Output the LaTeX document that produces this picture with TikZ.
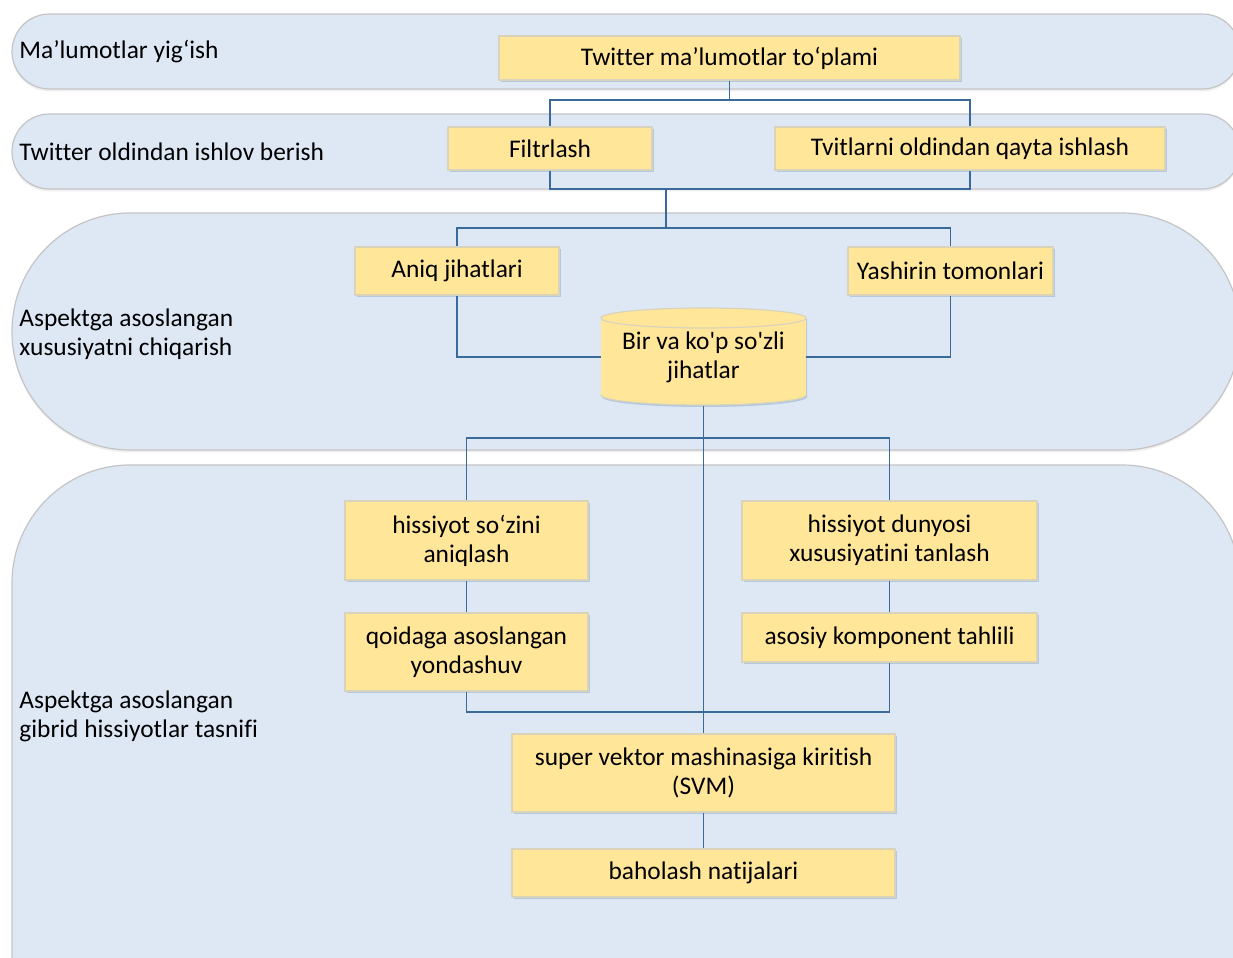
\documentclass[tikz,border=0pt]{standalone}
\usepackage{fontspec}
\setmainfont{Carlito}[Ligatures={TeXOff,NoCommon}]
\usetikzlibrary{shadows}

\definecolor{lanefill}{HTML}{DEE8F5}
\definecolor{laneline}{HTML}{C4C4C4}
\definecolor{boxfill}{HTML}{FFE699}
\definecolor{boxline}{HTML}{D9D3BC}
\definecolor{linkcol}{HTML}{3A6A9A}

\begin{document}
\begin{tikzpicture}[x=.5pt,y=-.5pt,
	lane/.style={fill=lanefill,draw=laneline,line width=.6pt,
		drop shadow={opacity=.12,shadow xshift=0pt,shadow yshift=-1.2pt}},
	lanelabel/.style={anchor=west,align=left,inner sep=0pt,
		font=\fontsize{12.7}{14.6}\selectfont},
	box/.style={fill=boxfill,draw=boxline,line width=.6pt,inner sep=0pt,align=center,
		font=\fontsize{12.7}{14.6}\selectfont,
		drop shadow={fill=linkcol,opacity=.25,shadow xshift=1pt,shadow yshift=-1.2pt}},
	plainbox/.style={inner sep=0pt,align=center,font=\fontsize{12.7}{14.6}\selectfont},
	link/.style={draw=linkcol,line width=.7pt}]
	\useasboundingbox (0,0) rectangle (1233,958);
	\fill[white] (0,0) rectangle (1233,958);

	% lanes
	\begin{scope}
	\clip (0,0) rectangle (1233,958);
	\draw[lane,rounded corners=18.75pt] (12,14) rectangle (1240,89);
	\draw[lane,rounded corners=18.75pt] (12,114) rectangle (1240,189);
	\draw[lane,rounded corners=59pt] (12,213) rectangle (1240,450);
	\draw[lane,rounded corners=59pt] (12,465) rectangle (1240,1120);
	\end{scope}

	\node[lanelabel] (l1) at (19,52) {Ma’lumotlar yig‘ish};
	\node[lanelabel] (l2) at (19,152) {Twitter oldindan ishlov berish};
	\node[lanelabel] (l3) at (19,334) {Aspektga asoslangan\\xususiyatni chiqarish};
	\node[lanelabel] (l4) at (19,716) {Aspektga asoslangan\\gibrid hissiyotlar tasnifi};

	% boxes
	\node[box,minimum width=230.5pt,minimum height=22pt] (tw) at (729.5,58) {Twitter ma’lumotlar to‘plami};
	\node[box,minimum width=102pt,minimum height=21.5pt] (filt) at (550,148.5) {Filtrlash};
	\node[box,minimum width=195pt,minimum height=21.5pt] (tvit) at (970,148.5) {Tvitlarni oldindan qayta ishlash};
	\node[box,minimum width=102pt,minimum height=24pt] (aniq) at (457,271) {Aniq jihatlari};
	\node[box,minimum width=102.5pt,minimum height=24pt] (yash) at (950.5,271) {Yashirin tomonlari};

	% cylinder
	\fill[linkcol,opacity=.25] (602,319) -- (602,397) arc (180:360:51.25pt and 5pt) -- (807,319) -- cycle;
	\fill[boxfill] (601,318) -- (601,395) arc (180:360:51.25pt and 5pt) -- (806,318) -- cycle;
	\draw[boxline,line width=.6pt] (601,395) arc (180:360:51.25pt and 5pt);
	\draw[boxline,fill=boxfill,line width=.6pt] (703.5,318) ellipse (51.25pt and 5pt);
	\node[plainbox,minimum width=102.5pt,minimum height=49pt] (cyl) at (703.5,357) {Bir va ko'p so'zli\\jihatlar};

	\node[box,minimum width=121.5pt,minimum height=39.5pt] (hsoz) at (466.5,540.5) {hissiyot so‘zini\\aniqlash};
	\node[box,minimum width=147.5pt,minimum height=39.5pt] (hdun) at (889.5,540.5) {hissiyot dunyosi\\xususiyatini tanlash};
	\node[box,minimum width=121.5pt,minimum height=39pt] (qoida) at (466.5,652) {qoidaga asoslangan\\yondashuv};
	\node[box,minimum width=147.5pt,minimum height=24.5pt] (pca) at (889.5,637.5) {asosiy komponent tahlili};
	\node[box,minimum width=191.5pt,minimum height=39pt] (svm) at (703.5,773) {super vektor mashinasiga kiritish\\(SVM)};
	\node[box,minimum width=191.5pt,minimum height=24pt] (baho) at (703.5,873) {baholash natijalari};

	% links
	\coordinate (j1) at (729.5,100);
	\coordinate (j2) at (666,189);
	\coordinate (j3) at (666,228);
	\coordinate (j4) at (703.5,438);
	\coordinate (j5) at (703.5,712);
	\draw[link] (tw.south) -- (j1);
	\draw[link] (filt.north) |- (j1) -| (tvit.north);
	\draw[link] (filt.south) |- (j2) -| (tvit.south);
	\draw[link] (j2) -- (j3);
	\draw[link] (aniq.north) |- (j3) -| (yash.north);
	\draw[link] (aniq.south) |- (cyl.west);
	\draw[link] (yash.south) |- (cyl.east);
	\draw[link] (cyl.south) -- (svm.north);
	\draw[link] (hsoz.north) |- (j4) -| (hdun.north);
	\draw[link] (hsoz) -- (qoida);
	\draw[link] (hdun) -- (pca);
	\draw[link] (qoida.south) |- (j5) -| (pca.south);
	\draw[link] (svm) -- (baho);
\end{tikzpicture}
\end{document}
